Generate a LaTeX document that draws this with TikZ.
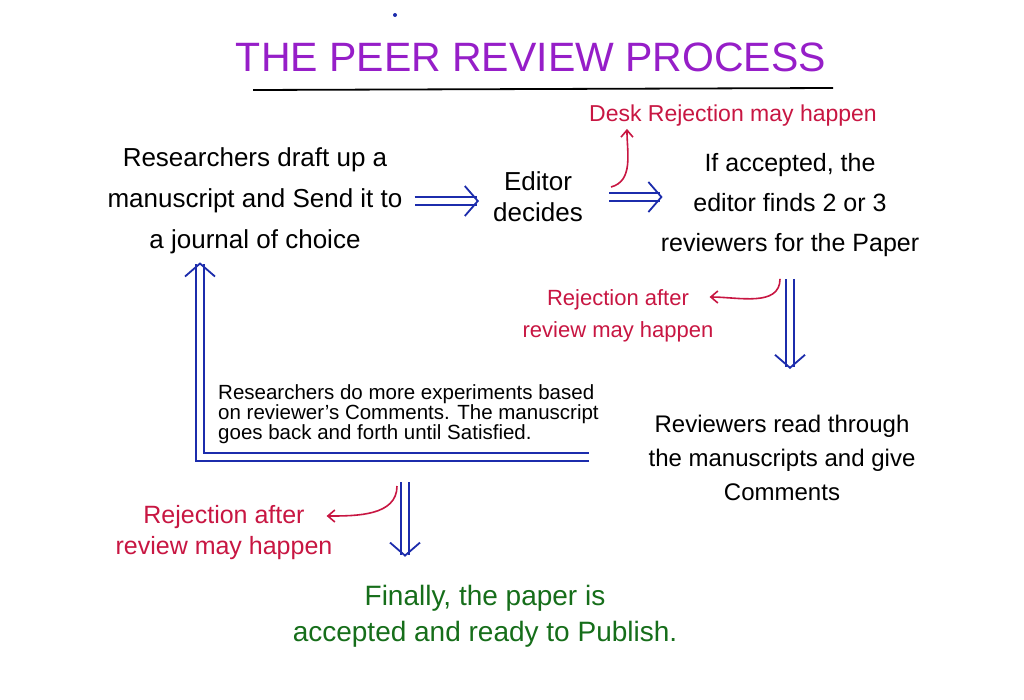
\documentclass[tikz,border=0pt]{standalone}
\usepackage{fontspec}
\setmainfont{Liberation Sans}
\usepackage{tikz}
\usetikzlibrary{positioning,arrows.meta}
\usepackage{xcolor}
\definecolor{penblue}{RGB}{28,44,172}
\definecolor{penred}{RGB}{200,22,66}
\definecolor{penpurple}{RGB}{150,30,200}
\definecolor{pengreen}{RGB}{22,110,26}

\begin{document}
\begin{tikzpicture}[x=1pt, y=-1pt,
  hand/.style={align=center, inner sep=2pt},
  dblarrow/.style={draw=penblue, line width=1.6pt, double=white, double distance=6pt,
    -{Straight Barb[length=13pt,width=30pt,line width=1.8pt]}},
  redarrow/.style={draw=penred, line width=1.6pt, -{Straight Barb[length=7pt,width=12pt]}}]
\useasboundingbox[fill=white] (0,0) rectangle (1024,699);
\fill[penblue] (395,15) circle (2pt);
\node[hand, text=penpurple, font=\fontsize{41}{44}\selectfont] (title) at (531,57) {THE PEER REVIEW PROCESS};
\draw[line width=1.8pt] (253,90) -- (833,88);

\node[hand, font=\fontsize{26}{41}\selectfont] (draft) at (255,201)
  {Researchers draft up a\\manuscript and Send it to\\a journal of choice};
\node[hand, font=\fontsize{26}{31}\selectfont] (editor) at (538,197) {Editor\\decides};
\node[hand, font=\fontsize{25}{40}\selectfont] (accepted) at (790,205)
  {If accepted, the\\editor finds 2 or 3\\reviewers for the Paper};
\node[hand, text=penred, font=\fontsize{23}{28}\selectfont] (desk) at (733,116) {Desk Rejection may happen};
\node[hand, text=penred, font=\fontsize{22}{32}\selectfont] (rejright) at (618,316)
  {Rejection after\\review may happen};
\node[hand, font=\fontsize{24}{34}\selectfont] (reviewers) at (782,458)
  {Reviewers read through\\the manuscripts and give\\Comments};
\node[hand, align=left, anchor=west, font=\fontsize{20.5}{20}\selectfont] (redo) at (216,414)
  {Researchers do more experiments based\\on reviewer's Comments. The manuscript\\goes back and forth until Satisfied.};
\node[hand, text=penred, font=\fontsize{25}{31}\selectfont] (rejleft) at (224,533)
  {Rejection after\\review may happen};
\node[hand, text=pengreen, font=\fontsize{28}{36}\selectfont] (final) at (485,616)
  {Finally, the paper is\\accepted and ready to Publish.};

% main flow
\draw[dblarrow, shorten <=10pt, shorten >=12pt] (draft.east) -- (draft.east -| editor.west);
\draw[dblarrow, shorten <=24pt, shorten >=-4pt] (editor.east) -- (editor.east -| accepted.west);
\draw[redarrow] ([xshift=26pt,yshift=10pt]editor.east) to[out=15,in=-90] ([xshift=40pt]desk.south west);
\draw[dblarrow, shorten <=20pt, shorten >=44pt] (accepted.south) -- (accepted.south |- reviewers.north);
\draw[redarrow] ([xshift=-10pt,yshift=-20pt]accepted.south) to[out=-90,in=0] ([xshift=-6pt,yshift=19pt]rejright.east);

% loop back to the researchers
\coordinate (loopstart) at (589,457);
\draw[dblarrow, shorten >=6pt] (loopstart) -| ([xshift=-55pt]draft.south);
\coordinate (loopdown) at (405,468);
\draw[dblarrow, shorten <=14pt, shorten >=26pt] (loopdown) -- (loopdown |- final.north);
\draw[redarrow] ([xshift=-8pt,yshift=-18pt]loopdown) to[out=-90,in=0] ([xshift=-8pt,yshift=17pt]rejleft.east);
\end{tikzpicture}
\end{document}
